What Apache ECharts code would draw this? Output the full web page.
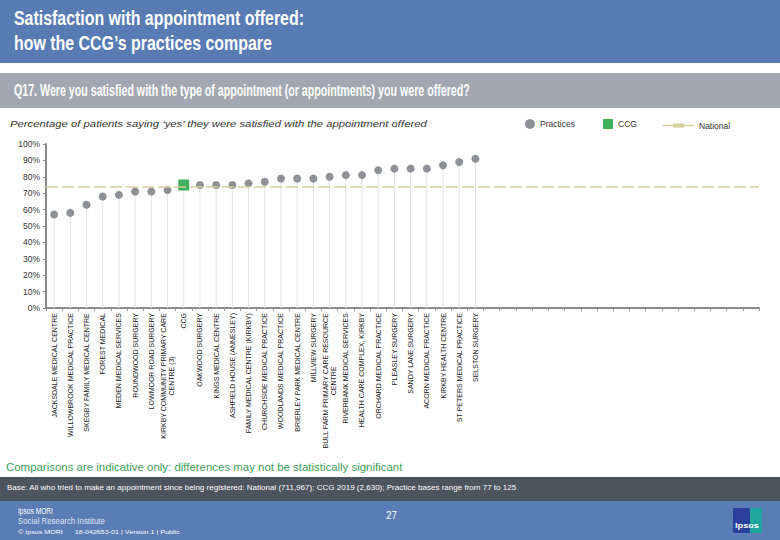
<!DOCTYPE html>
<html>
<head>
<meta charset="utf-8">
<script src="https://cdn.jsdelivr.net/npm/echarts@6/dist/echarts.min.js"></script>
<style>
html,body{margin:0;padding:0;background:#fff;}
#chart{width:780px;height:540px;}
</style>
</head>
<body>
<div id="chart"></div>
<script>
// ---- DATA ----
const categories = [
  'JACKSDALE MEDICAL CENTRE',
  'WILLOWBROOK MEDICAL PRACTICE',
  'SKEGBY FAMILY MEDICAL CENTRE',
  'FOREST MEDICAL',
  'MEDEN MEDICAL SERVICES',
  'ROUNDWOOD SURGERY',
  'LOWMOOR ROAD SURGERY',
  'KIRKBY COMMUNITY PRIMARY CARE\nCENTRE (3)',
  'CCG',
  'OAKWOOD SURGERY',
  'KINGS MEDICAL CENTRE',
  'ASHFIELD HOUSE (ANNESLEY)',
  'FAMILY MEDICAL CENTRE (KIRKBY)',
  'CHURCHSIDE MEDICAL PRACTICE',
  'WOODLANDS MEDICAL PRACTICE',
  'BRIERLEY PARK MEDICAL CENTRE',
  'MILLVIEW SURGERY',
  'BULL FARM PRIMARY CARE RESOURCE\nCENTRE',
  'RIVERBANK MEDICAL SERVICES',
  'HEALTH CARE COMPLEX, KIRKBY',
  'ORCHARD MEDICAL PRACTICE',
  'PLEASLEY SURGERY',
  'SANDY LANE SURGERY',
  'ACORN MEDICAL PRACTICE',
  'KIRKBY HEALTH CENTRE',
  'ST PETERS MEDICAL PRACTICE',
  'SELSTON SURGERY'
];
const values = [57, 58, 63, 68, 69, 71, 71, 72, 75, 75, 75, 75, 76, 77, 79, 79, 79, 80, 81, 81, 84, 85, 85, 85, 87, 89, 91];
const ccgName = 'CCG';
const nationalValue = 74;
const yTicks = [0, 10, 20, 30, 40, 50, 60, 70, 80, 90, 100];
const axisSlots = 44;

const titleLines = ['Satisfaction with appointment offered:', 'how the CCG\u2019s practices compare'];
const questionText = 'Q17. Were you satisfied with the type of appointment (or appointments) you were offered?';
const subtitleText = 'Percentage of patients saying \u2018yes\u2019 they were satisfied with the appointment offered';
const noteText = 'Comparisons are indicative only: differences may not be statistically significant';
const baseText = 'Base: All who tried to make an appointment since being registered: National (711,967); CCG 2019 (2,630); Practice bases range from 77 to 125';

// ---- BUILD ----
const FONT = '"Liberation Sans", Arial, sans-serif';
const axisData = categories.concat(Array(axisSlots - categories.length).fill(''));
const practiceData = categories.map((c, i) => c === ccgName ? '-' : values[i]);
const ccgData = categories.map((c, i) => c === ccgName ? values[i] : '-');

const mctx = document.createElement('canvas').getContext('2d');
function fit(text, font, w) { mctx.font = font; return w / mctx.measureText(text).width; }
function txt(text, x, y, size, color, targetW, weight, style) {
  const font = (style || 'normal') + ' ' + (weight || 'normal') + ' ' + size + 'px ' + FONT;
  const s = targetW ? fit(text, font, targetW) : 1;
  return { type: 'text', x: x, y: y, scaleX: s, silent: true, z: 10,
    style: { text: text, font: font, fill: color, align: 'left', verticalAlign: 'middle' } };
}
function rect(x, y, w, h, fill) {
  return { type: 'rect', shape: { x: x, y: y, width: w, height: h }, style: { fill: fill }, silent: true, z: 1 };
}
const legendText = { fontSize: 8.5, color: '#333', fontFamily: FONT };

const chart = echarts.init(document.getElementById('chart'), null, { renderer: 'svg' });
chart.setOption({
  animation: false,
  backgroundColor: '#ffffff',
  graphic: [
    rect(0, 0, 780, 63, '#587bb4'),
    rect(0, 73, 780, 35, '#a1a8b1'),
    rect(0, 477, 780, 24, '#4c545e'),
    rect(0, 501, 780, 39, '#5a7db5'),
    rect(747, 508, 15, 25, '#1fa5a0'),
    rect(733, 508, 17, 25, '#2b3f9c'),
    txt(titleLines[0], 14, 18, 21, '#ffffff', 290, 'bold'),
    txt(titleLines[1], 14, 43, 21, '#ffffff', 258, 'bold'),
    txt(questionText, 14, 91, 16, '#ffffff', 456, 'bold'),
    txt(subtitleText, 10, 124, 9.5, '#333333', 418, 'normal', 'italic'),
    txt(noteText, 6, 467, 10, '#3f9d5d', 397),
    txt(baseText, 7, 488, 7.5, '#ffffff', 510),
    txt('Ipsos MORI', 18, 511, 9, '#ffffff', 35),
    txt('Social Research Institute', 18, 521, 9, '#dfe6f2', 87),
    txt('\u00a9 Ipsos MORI      18-042653-01 | Version 1 | Public', 18, 532, 6, '#ffffff', 162),
    txt('27', 386, 515, 10, '#ffffff'),
    txt('Ipsos', 735, 526, 7, '#ffffff', 24, 'bold')
  ],
  legend: [
    { left: 525, top: 119, padding: 0, itemWidth: 10, itemHeight: 10,
      data: [{ name: 'Practices', icon: 'circle' }], textStyle: legendText, selectedMode: false },
    { left: 603, top: 119, padding: 0, itemWidth: 10, itemHeight: 10,
      data: [{ name: 'CCG', icon: 'rect' }], textStyle: legendText, selectedMode: false },
    { left: 663, top: 121, padding: 0, itemWidth: 31, itemHeight: 6,
      data: [{ name: 'National', icon: 'path://M0,2.3 H31 V3.7 H0 Z M10,1 H21 V5 H10 Z' }],
      textStyle: legendText, selectedMode: false }
  ],
  grid: { left: 46, right: 21, top: 144, bottom: 232, containLabel: false },
  xAxis: {
    type: 'category',
    data: axisData,
    boundaryGap: true,
    axisLine: { show: true, lineStyle: { color: '#8c8c8c', width: 2 } },
    axisTick: { show: true, length: 3, interval: 0, lineStyle: { color: '#9a9a9a' } },
    axisLabel: {
      interval: 0, rotate: 90, margin: 5, fontSize: 7, color: '#1a1a1a', fontFamily: FONT,
      formatter: function (v) {
        if (!v) return '';
        return v.split('\n').map(l => '{c|' + l + '}').join('\n');
      },
      rich: { c: { align: 'center', fontSize: 7, color: '#1a1a1a', fontFamily: FONT, lineHeight: 8 } }
    },
    splitLine: { show: false }
  },
  yAxis: {
    type: 'value', min: yTicks[0], max: yTicks[yTicks.length - 1], interval: 10,
    axisLine: { show: true, lineStyle: { color: '#8c8c8c', width: 2 } },
    axisTick: { show: true, length: 3, lineStyle: { color: '#8c8c8c' } },
    axisLabel: { formatter: '{value}%', fontSize: 8.5, color: '#333', margin: 6, fontFamily: FONT },
    splitLine: { show: false }
  },
  series: [
    { type: 'bar', name: 'stems', data: values, barWidth: 1, silent: true, z: 1,
      itemStyle: { color: '#e4e4e4' } },
    { type: 'scatter', name: 'Practices', data: practiceData, symbol: 'circle', symbolSize: 8, z: 3,
      itemStyle: { color: '#8e9196', opacity: 1 } },
    { type: 'scatter', name: 'CCG', data: ccgData, symbol: 'rect', symbolSize: 11, z: 4,
      itemStyle: { color: '#3fb05e', opacity: 1 } },
    { type: 'line', name: 'National', data: [], symbol: 'none', z: 2,
      itemStyle: { color: '#d6cf9c' },
      lineStyle: { color: '#d6cf9c', width: 2 },
      markLine: { silent: true, symbol: 'none', label: { show: false },
        lineStyle: { color: '#d6cf9c', width: 1.5, type: [12, 4] },
        data: [{ yAxis: nationalValue }] } }
  ]
});
</script>
</body>
</html>
